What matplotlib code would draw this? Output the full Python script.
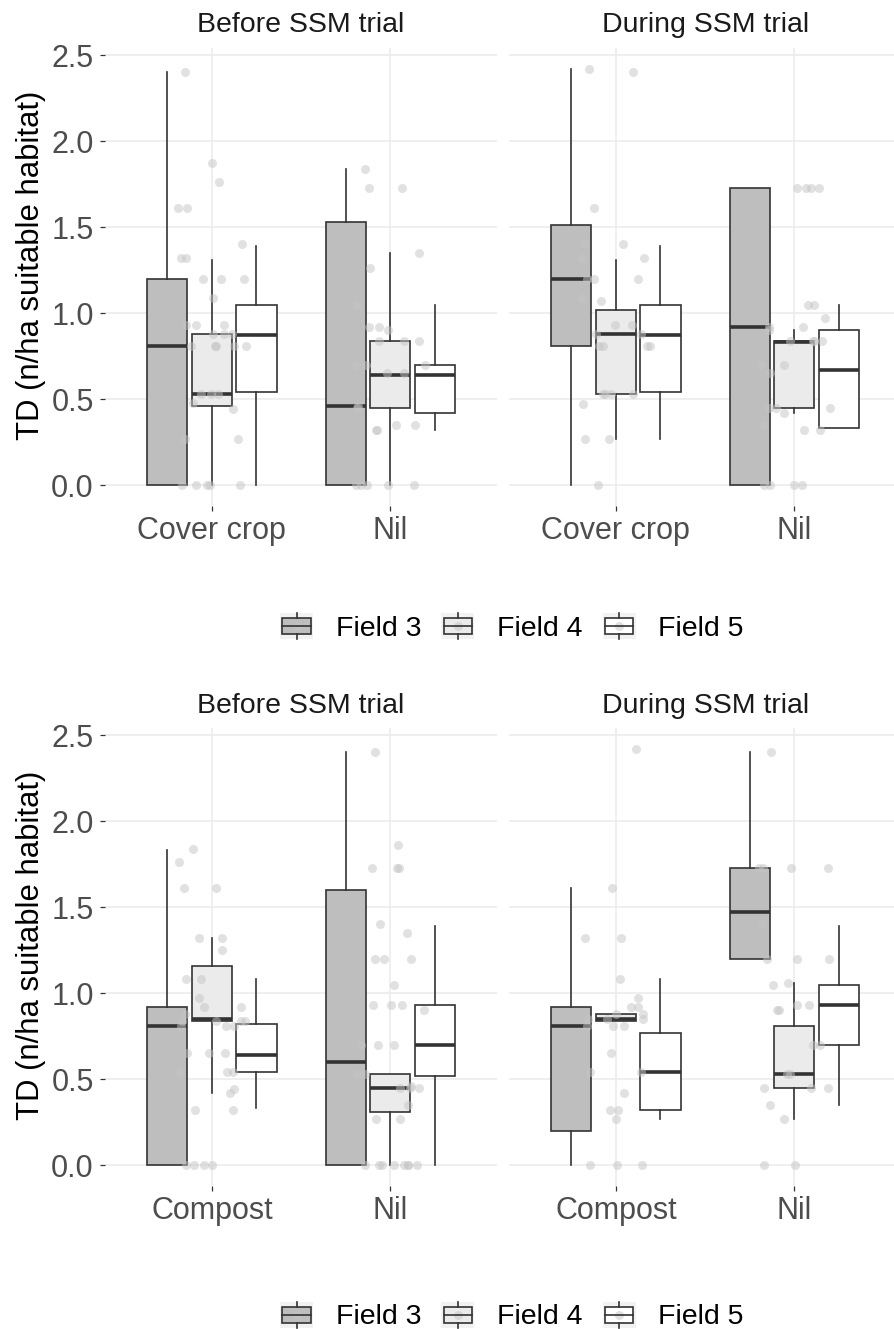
import numpy as np
import matplotlib
matplotlib.use("Agg")
import matplotlib.pyplot as plt
from matplotlib.patches import Rectangle, Patch
from matplotlib.lines import Line2D
from matplotlib.legend_handler import HandlerBase

plt.rcParams['font.family'] = ['Liberation Sans', 'DejaVu Sans']

# ---------------------------------------------------------------- data
fields = ["Field 3", "Field 4", "Field 5"]
periods = ["Before SSM trial", "During SSM trial"]
cover_treatments = ["Cover crop", "Nil"]
compost_treatments = ["Compost", "Nil"]

# Box summaries, ordered (treatment 1: F3, F4, F5, treatment 2: F3, F4, F5)
cc_before_lo  = [0.00, 0.00, 0.00, 0.00, 0.00, 0.32]
cc_before_q1  = [0.00, 0.46, 0.54, 0.00, 0.45, 0.42]
cc_before_med = [0.81, 0.53, 0.87, 0.46, 0.64, 0.64]
cc_before_q3  = [1.20, 0.88, 1.05, 1.53, 0.84, 0.70]
cc_before_hi  = [2.40, 1.31, 1.39, 1.84, 1.35, 1.05]

cc_during_lo  = [0.00, 0.27, 0.27, 0.00, 0.42, 0.33]
cc_during_q1  = [0.81, 0.53, 0.54, 0.00, 0.45, 0.33]
cc_during_med = [1.20, 0.88, 0.87, 0.92, 0.835, 0.67]
cc_during_q3  = [1.51, 1.02, 1.05, 1.73, 0.84, 0.90]
cc_during_hi  = [2.42, 1.31, 1.39, 1.73, 0.90, 1.05]

cp_before_lo  = [0.00, 0.42, 0.33, 0.00, 0.00, 0.00]
cp_before_q1  = [0.00, 0.84, 0.54, 0.00, 0.31, 0.52]
cp_before_med = [0.81, 0.85, 0.64, 0.60, 0.45, 0.70]
cp_before_q3  = [0.92, 1.16, 0.82, 1.60, 0.53, 0.93]
cp_before_hi  = [1.83, 1.32, 1.08, 2.40, 0.53, 1.39]

cp_during_lo  = [0.00, 0.84, 0.27, 1.20, 0.27, 0.35]
cp_during_q1  = [0.20, 0.84, 0.32, 1.20, 0.45, 0.70]
cp_during_med = [0.81, 0.85, 0.54, 1.47, 0.53, 0.93]
cp_during_q3  = [0.92, 0.88, 0.77, 1.73, 0.81, 1.05]
cp_during_hi  = [1.61, 0.88, 1.08, 2.40, 1.06, 1.39]

# Individual observations per treatment (all fields pooled)
cc_before_cover = [2.40, 1.87, 1.76, 1.61, 1.61, 1.40, 1.32, 1.32, 1.20, 1.20,
                   1.20, 1.09, 0.93, 0.93, 0.93, 0.88, 0.88, 0.88, 0.81, 0.81,
                   0.81, 0.81, 0.81, 0.53, 0.53, 0.53, 0.48, 0.44, 0.27, 0.27,
                   0.00, 0.00, 0.00, 0.00, 0.00]
cc_before_nil = [1.84, 1.73, 1.73, 1.35, 1.26, 1.05, 0.92, 0.92, 0.90, 0.84,
                 0.84, 0.84, 0.70, 0.70, 0.70, 0.65, 0.65, 0.46, 0.45, 0.35,
                 0.35, 0.32, 0.32, 0.00, 0.00, 0.00, 0.00, 0.00]
cc_during_cover = [2.42, 2.40, 1.61, 1.40, 1.40, 1.32, 1.32, 1.20, 1.20, 1.20,
                   1.09, 1.07, 0.93, 0.93, 0.88, 0.88, 0.81, 0.81, 0.81, 0.81,
                   0.53, 0.53, 0.53, 0.53, 0.47, 0.27, 0.27, 0.00]
cc_during_nil = [1.73, 1.73, 1.73, 1.73, 1.05, 1.05, 0.97, 0.92, 0.92, 0.90,
                 0.84, 0.84, 0.84, 0.84, 0.70, 0.70, 0.65, 0.45, 0.45, 0.45,
                 0.42, 0.35, 0.32, 0.32, 0.00, 0.00, 0.00, 0.00]
cp_before_compost = [1.84, 1.76, 1.61, 1.61, 1.32, 1.32, 1.25, 1.08, 1.08, 0.97,
                     0.92, 0.92, 0.88, 0.84, 0.84, 0.84, 0.84, 0.81, 0.81, 0.81,
                     0.65, 0.65, 0.65, 0.54, 0.54, 0.54, 0.44, 0.42, 0.32, 0.32,
                     0.00, 0.00, 0.00, 0.00]
cp_before_nil = [2.40, 1.86, 1.73, 1.73, 1.73, 1.40, 1.35, 1.20, 1.20, 1.20,
                 1.05, 0.93, 0.93, 0.93, 0.90, 0.70, 0.70, 0.70, 0.53, 0.53,
                 0.46, 0.45, 0.45, 0.45, 0.35, 0.27, 0.27, 0.00, 0.00, 0.00,
                 0.00, 0.00, 0.00, 0.00, 0.00]
cp_during_compost = [2.42, 1.61, 1.32, 1.32, 1.08, 0.97, 0.92, 0.92, 0.88, 0.88,
                     0.85, 0.85, 0.85, 0.81, 0.81, 0.81, 0.65, 0.54, 0.54, 0.42,
                     0.32, 0.32, 0.27, 0.00, 0.00, 0.00]
cp_during_nil = [2.40, 1.73, 1.73, 1.73, 1.73, 1.40, 1.20, 1.20, 1.20, 1.06,
                 1.05, 0.93, 0.93, 0.90, 0.90, 0.70, 0.70, 0.53, 0.53, 0.45,
                 0.45, 0.45, 0.35, 0.27, 0.00, 0.00]

# ---------------------------------------------------------------- styling
W, H = 894, 1329
field_fill = ["#BEBEBE", "#EBEBEB", "#FFFFFF"]
edge = "#333333"
grid_col = "#EBEBEB"
point_col = "#C4C4C4"
PX_PER_UNIT = 392 / 2.2

fig = plt.figure(figsize=(W / 100, H / 100), dpi=100)
rng = np.random.default_rng(11)


def panel(x0, x1, ytop, ybot):
    return fig.add_axes([x0 / W, 1 - ybot / H, (x1 - x0) / W, (ybot - ytop) / H])


def draw_panel(ax, treatments, lo, q1, med, q3, hi, obs, show_y):
    ax.set_ylim(-0.121, 2.541)
    for s in ax.spines.values():
        s.set_visible(False)
    ax.set_axisbelow(True)
    ax.grid(True, color=grid_col, linewidth=1.1)
    ax.set_yticks(np.arange(0, 2.51, 0.5))
    ax.set_yticklabels([f"{v:.1f}" for v in np.arange(0, 2.51, 0.5)])
    ax.set_xticks([1, 2])
    ax.set_xticklabels(treatments)
    ax.tick_params(axis="both", length=3.6, width=0.9, color=edge,
                   labelsize=22, labelcolor="#4D4D4D")
    ax.tick_params(axis="y", pad=4.5)
    ax.tick_params(axis="x", pad=3.5)
    if not show_y:
        ax.tick_params(axis="y", length=0, labelleft=False)

    for j, fill in enumerate(field_fill):
        stats, pos = [], []
        for i in range(len(treatments)):
            k = i * 3 + j
            stats.append(dict(med=med[k], q1=q1[k], q3=q3[k],
                              whislo=lo[k], whishi=hi[k], fliers=[]))
            pos.append(i + 1 + (j - 1) * 0.25)
        ax.bxp(stats, positions=pos, widths=0.225, patch_artist=True,
               showfliers=False, showcaps=False, manage_ticks=False,
               boxprops=dict(facecolor=fill, edgecolor=edge, linewidth=1.2),
               medianprops=dict(color=edge, linewidth=2.6, solid_capstyle="butt"),
               whiskerprops=dict(color=edge, linewidth=1.2))

    for i, vals in enumerate(obs):
        vals = np.asarray(vals)
        xj = i + 1 + rng.uniform(-0.2, 0.2, len(vals))
        ax.scatter(xj, vals, s=42, color=point_col, alpha=0.5,
                   linewidths=0, zorder=5)


class BoxKey(HandlerBase):
    def create_artists(self, legend, orig_handle, xdescent, ydescent,
                       width, height, fontsize, trans):
        x0, y0 = -xdescent, -ydescent
        bg = Rectangle((x0, y0), width, height, facecolor="#F2F2F2",
                       edgecolor="none", transform=trans)
        bw, bh = width * 0.86, height * 0.6
        bx, by = x0 + (width - bw) / 2, y0 + (height - bh) / 2
        cx, cy = x0 + width / 2, y0 + height / 2
        box = Rectangle((bx, by), bw, bh, facecolor=orig_handle.get_facecolor(),
                        edgecolor=edge, linewidth=1.2, transform=trans)
        wt = Line2D([cx, cx], [by + bh, y0 + height], color=edge, lw=1.2, transform=trans)
        wb = Line2D([cx, cx], [y0, by], color=edge, lw=1.2, transform=trans)
        dot = Line2D([cx], [cy], marker="o", markersize=6.5, color=point_col,
                     alpha=0.5, markeredgewidth=0, linestyle="none", transform=trans)
        med_line = Line2D([bx, bx + bw], [cy, cy], color=edge, lw=1.2, transform=trans)
        return [bg, box, wt, wb, dot, med_line]


def add_legend(ycenter):
    handles = [Patch(facecolor=c) for c in field_fill]
    fig.legend(handles, fields, loc="center",
               bbox_to_anchor=(512 / W, 1 - ycenter / H), ncol=3,
               frameon=False, fontsize=20.5, handlelength=1.16,
               handleheight=1.05, handletextpad=0.8, columnspacing=0.7,
               borderpad=0, borderaxespad=0, handler_map={Patch: BoxKey()})


rows = [
    dict(top=48, bottom=506, treat=cover_treatments,
         before=(cc_before_lo, cc_before_q1, cc_before_med, cc_before_q3, cc_before_hi,
                 [cc_before_cover, cc_before_nil]),
         during=(cc_during_lo, cc_during_q1, cc_during_med, cc_during_q3, cc_during_hi,
                 [cc_during_cover, cc_during_nil]),
         title_y=25, label_y=265, legend_y=627.5),
    dict(top=728, bottom=1186, treat=compost_treatments,
         before=(cp_before_lo, cp_before_q1, cp_before_med, cp_before_q3, cp_before_hi,
                 [cp_before_compost, cp_before_nil]),
         during=(cp_during_lo, cp_during_q1, cp_during_med, cp_during_q3, cp_during_hi,
                 [cp_during_compost, cp_during_nil]),
         title_y=706, label_y=945, legend_y=1316),
]

left_x = (105, 497)
right_x = (509, 894)

for row in rows:
    axl = panel(left_x[0], left_x[1], row["top"], row["bottom"])
    axl.set_xlim(0.4, 2.6)
    draw_panel(axl, row["treat"], *row["before"], show_y=True)

    axr = panel(right_x[0], right_x[1], row["top"], row["bottom"])
    axr.set_xlim(0.4, 0.4 + (right_x[1] - right_x[0]) / PX_PER_UNIT)
    draw_panel(axr, row["treat"], *row["during"], show_y=False)

    fig.text((left_x[0] + left_x[1]) / 2 / W, 1 - row["title_y"] / H, periods[0],
             ha="center", va="center", fontsize=20.5, color="#1A1A1A")
    fig.text((509 + 902) / 2 / W, 1 - row["title_y"] / H, periods[1],
             ha="center", va="center", fontsize=20.5, color="#1A1A1A")
    fig.text(31 / W, 1 - row["label_y"] / H, "TD (n/ha suitable habitat)",
             rotation=90, ha="center", va="center", fontsize=22.4, color="black")
    add_legend(row["legend_y"])

fig.savefig("out.png", dpi=100, facecolor="white")
